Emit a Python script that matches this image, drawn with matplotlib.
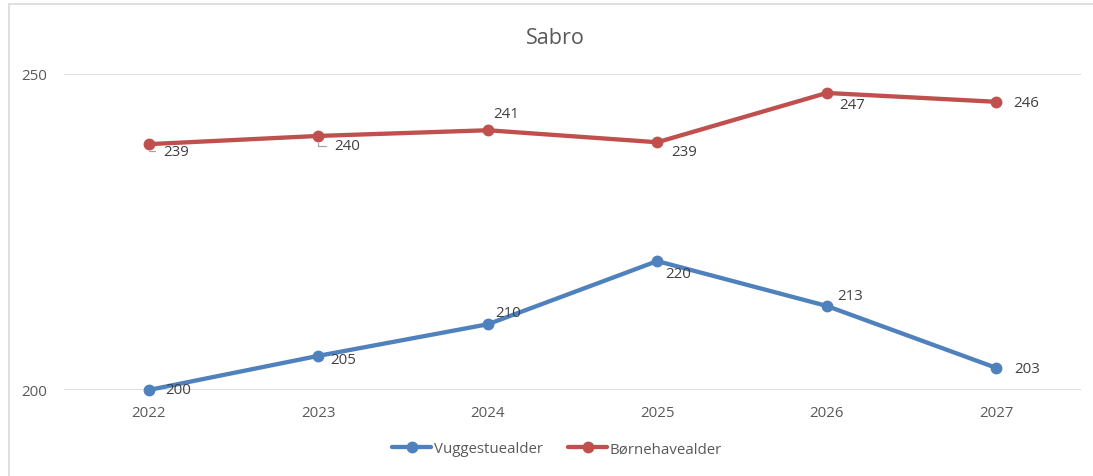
import matplotlib.pyplot as plt
from matplotlib.patches import Rectangle

years = ["2022", "2023", "2024", "2025", "2026", "2027"]
vuggestue = [200.0, 205.4, 210.4, 220.4, 213.3, 203.5]
boernehave = [238.9, 240.2, 241.1, 239.2, 247.0, 245.6]
vuggestue_labels = ["200", "205", "210", "220", "213", "203"]
boernehave_labels = ["239", "240", "241", "239", "247", "246"]

# label offsets in pixels (dx, dy) relative to each point
vug_offsets = [(16, 0), (12, -4), (7, 12), (8, -12), (11, 10), (18, -1)]
boe_offsets = [(15, -7), (16, -10), (6, 17), (14, -9), (12, -12), (17, -1)]
boe_leader = [True, True, False, False, False, False]

BLUE = "#4F81BD"
RED = "#C0504D"
TEXT = "#595959"
GRID = "#D9D9D9"

plt.rcParams["font.family"] = ["Open Sans", "DejaVu Sans"]

fig = plt.figure(figsize=(10.93, 4.77), dpi=100)
fig.patches.append(Rectangle((9 / 1093, -0.1), 1.2, 1 - 5 / 477 + 0.1,
                             transform=fig.transFigure, fill=False,
                             edgecolor=GRID, linewidth=1.2))
ax = fig.add_axes((64 / 1093, 1 - 391 / 477, (1081 - 64) / 1093, (391 - 75) / 477))

x = range(len(years))
ax.plot(x, vuggestue, color=BLUE, lw=3.1, marker="o", ms=7.5, label="Vuggestuealder",
        solid_capstyle="round", clip_on=False, zorder=3)
ax.plot(x, boernehave, color=RED, lw=3.1, marker="o", ms=7.5, label="Børnehavealder",
        solid_capstyle="round", clip_on=False, zorder=3)

for i, (v, lab) in enumerate(zip(vuggestue, vuggestue_labels)):
    ax.annotate(lab, (i, v), xytext=vug_offsets[i], textcoords="offset pixels",
                ha="left", va="center", fontsize=10.8, color="#404040")

for i, (v, lab) in enumerate(zip(boernehave, boernehave_labels)):
    arrow = None
    if boe_leader[i]:
        arrow = dict(arrowstyle="-", color="#A6A6A6", lw=0.9,
                     connectionstyle="angle,angleA=0,angleB=90,rad=0",
                     shrinkA=4, shrinkB=5)
    ax.annotate(lab, (i, v), xytext=boe_offsets[i], textcoords="offset pixels",
                ha="left", va="center", fontsize=10.8, color="#404040",
                arrowprops=arrow)

ax.set_xlim(-0.5, len(years) - 0.5)
ax.set_ylim(200, 250)
ax.set_yticks([200, 250])
ax.set_xticks(list(x))
ax.set_xticklabels(years)
ax.yaxis.grid(True, color=GRID, lw=1.2)
ax.set_axisbelow(True)
for s in ax.spines.values():
    s.set_visible(False)
ax.tick_params(length=0, labelsize=10.8, colors=TEXT)
ax.tick_params(axis="y", pad=12)
ax.tick_params(axis="x", pad=11)

fig.text(555 / 1093, 1 - 38 / 477, "Sabro", ha="center", va="center",
         fontsize=15.5, color=TEXT)

fig.legend(loc="center", bbox_to_anchor=(557 / 1093, 1 - 450 / 477), ncol=2,
           frameon=False, fontsize=10.8, labelcolor=TEXT, handlelength=2.6,
           handletextpad=0.15, columnspacing=1.7)

fig.savefig("out.png", dpi=100)
